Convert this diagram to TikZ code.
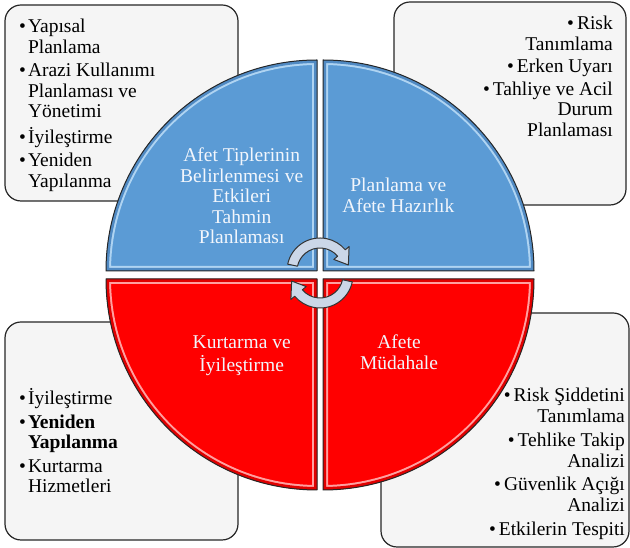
\documentclass[tikz,border=0pt]{standalone}
\usepackage{fontspec}
\setmainfont{Liberation Serif}
\definecolor{qblue}{RGB}{91,155,213}
\definecolor{qbluehi}{RGB}{175,212,242}
\definecolor{qbluedk}{RGB}{80,138,195}
\definecolor{qred}{RGB}{255,0,0}
\definecolor{qredhi}{RGB}{255,160,160}
\definecolor{qreddk}{RGB}{225,0,0}
\definecolor{boxfill}{RGB}{245,245,245}
\definecolor{arrowfill}{RGB}{203,215,232}
\definecolor{qtext}{RGB}{242,246,252}
\def\secTL{(317,277) -- (106,277) arc[start angle=180,end angle=90,radius=211] -- cycle}
\def\secTR{(323,277) -- (323,488) arc[start angle=90,end angle=0,radius=211] -- cycle}
\def\secBL{(317,269) -- (106,269) arc[start angle=180,end angle=270,radius=211] -- cycle}
\def\secBR{(323,269) -- (534,269) arc[start angle=0,end angle=-90,radius=211] -- cycle}
\begin{document}
\begin{tikzpicture}[x=1pt,y=1pt,
  infobox/.style={draw=black!85, line width=1.2pt, fill=boxfill, rounded corners=16pt, inner sep=0pt},
  listtext/.style={inner sep=0pt, font=\fontsize{19.5}{20.5}\selectfont, text=black},
  quadtext/.style={inner sep=0pt, font=\fontsize{19.5}{20.5}\selectfont, text=qtext},
  quadedge/.style={draw=black!85, line width=1pt, line join=round},
  cyclearrow/.style={fill=arrowfill, draw=black!80, line width=1pt, line join=round}
]
\useasboundingbox (0,0) rectangle (630,548);

% info boxes
\node[infobox, minimum width=233pt, minimum height=196pt] (boxTL) at (121.5,445) {};
\node[infobox, minimum width=232pt, minimum height=203pt] (boxTR) at (510,444.5) {};
\node[infobox, minimum width=233pt, minimum height=218pt] (boxBL) at (121.5,117) {};
\node[infobox, minimum width=248pt, minimum height=234pt] (boxBR) at (505,118) {};

% quadrants
\begin{scope}
  \clip \secTL;
  \fill[qblue] \secTL;
  \draw[qbluehi, line width=10pt] \secTL;
  \draw[qbluedk, line width=6pt] \secTL;
\end{scope}
\draw[quadedge] \secTL;
\begin{scope}
  \clip \secTR;
  \fill[qblue] \secTR;
  \draw[qbluehi, line width=10pt] \secTR;
  \draw[qbluedk, line width=6pt] \secTR;
\end{scope}
\draw[quadedge] \secTR;
\begin{scope}
  \clip \secBL;
  \fill[qred] \secBL;
  \draw[qredhi, line width=10pt] \secBL;
  \draw[qreddk, line width=6pt] \secBL;
\end{scope}
\draw[quadedge] \secBL;
\begin{scope}
  \clip \secBR;
  \fill[qred] \secBR;
  \draw[qredhi, line width=10pt] \secBR;
  \draw[qreddk, line width=6pt] \secBR;
\end{scope}
\draw[quadedge] \secBR;

% quadrant texts
\node[quadtext, anchor=base] (tTL) at (241.7,386.3)
  {\begin{tabular}[t]{@{}c@{}}Afet Tiplerinin\\Belirlenmesi ve\\Etkileri\\Tahmin\\Planlaması\end{tabular}};
\node[quadtext, anchor=base] (tTR) at (398.3,356.3)
  {\begin{tabular}[t]{@{}c@{}}Planlama ve\\Afete Hazırlık\end{tabular}};
\node[quadtext, anchor=base] (tBL) at (241.7,199)
  {\begin{tabular}[t]{@{}c@{}}Kurtarma ve\\İyileştirme\end{tabular}};
\node[quadtext, anchor=base] (tBR) at (399,199)
  {\begin{tabular}[t]{@{}c@{}}Afete\\Müdahale\end{tabular}};

% cycle arrows
\begin{scope}[shift={(320,277)}]
  \draw[cyclearrow] (168:33) arc[start angle=168, end angle=40, radius=33]
    -- (40:38) -- (12:29) -- (40:18) -- (40:23)
    arc[start angle=40, end angle=168, radius=23] -- cycle;
\end{scope}
\begin{scope}[shift={(320,273)}]
  \draw[cyclearrow] (-12:33) arc[start angle=-12, end angle=-140, radius=33]
    -- (-140:38) -- (-168:29) -- (-140:18) -- (-140:23)
    arc[start angle=-140, end angle=-12, radius=23] -- cycle;
\end{scope}

% list texts
\node[listtext, anchor=base west] (lTL) at (19,515)
  {\begin{tabular}[t]{@{}l@{\hspace{2pt}}l@{}}•&Yapısal\\&Planlama\\[3pt]•&Arazi Kullanımı\\&Planlaması ve\\&Yönetimi\\[3pt]•&İyileştirme\\[3pt]•&Yeniden\\&Yapılanma\end{tabular}};
\node[listtext, anchor=base east] (lTR) at (613,518)
  {\begin{tabular}[t]{@{}r@{}}•\hspace{3pt}Risk\\Tanımlama\\[2pt]•\hspace{3pt}Erken Uyarı\\[2pt]•\hspace{3pt}Tahliye ve Acil\\Durum\\Planlaması\end{tabular}};
\node[listtext, anchor=base west] (lBL) at (19,143)
  {\begin{tabular}[t]{@{}l@{\hspace{2pt}}l@{}}•&İyileştirme\\[3pt]•&\textbf{Yeniden}\\&\textbf{Yapılanma}\\[3pt]•&Kurtarma\\&Hizmetleri\end{tabular}};
\node[listtext, anchor=base east] (lBR) at (625,146)
  {\begin{tabular}[t]{@{}r@{}}•\hspace{3pt}Risk Şiddetini\\Tanımlama\\[4pt]•\hspace{3pt}Tehlike Takip\\Analizi\\[3pt]•\hspace{3pt}Güvenlik Açığı\\Analizi\\[4pt]•\hspace{3pt}Etkilerin Tespiti\end{tabular}};
\end{tikzpicture}
\end{document}
